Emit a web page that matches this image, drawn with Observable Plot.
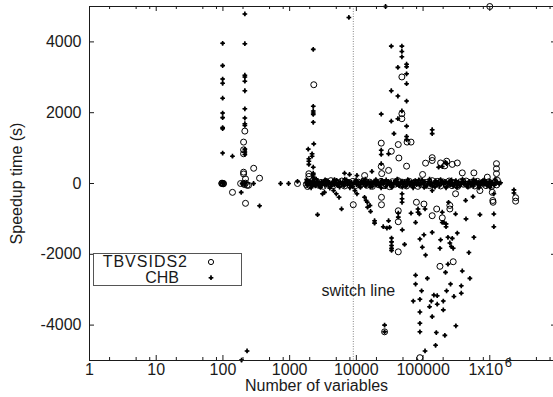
<!DOCTYPE html>
<html><head><meta charset="utf-8">
<script src="https://cdn.jsdelivr.net/npm/d3@7"></script>
<script src="https://cdn.jsdelivr.net/npm/@observablehq/plot@0.6"></script>
<style>
body{margin:0;background:#fff;font-family:"Liberation Sans",Arial,sans-serif;}
#wrap{position:relative;width:553px;height:397px;overflow:hidden;}
#legend{position:absolute;left:0;top:0;pointer-events:none;}
</style></head>
<body><div id="wrap"></div>
<script>
// ---- data ----
const seriesNames = ["TBVSIDS2", "CHB"];
const switchLine = [9000];
const switchLabel = ["switch line"];
const xMajorTicks = [1, 10, 100, 1000, 10000, 100000];
const xExpTick = [1000000];
const xAllMajor = [1, 10, 100, 1000, 10000, 100000, 1000000, 10000000];
const xMinorTicks = [2,5,8,20,50,80,200,500,800,2000,5000,8000,20000,50000,80000,200000,500000,800000,2000000,5000000,8000000];
const yTicks = [-4000, -2000, 0, 2000, 4000];

const tbvPoints = [
 [99,0],[96,0],[102,0],[97,10],[101,-10],
 [213,1480],[204,1170],[204,950],[204,840],[204,320],[204,270],[218,130],[184,0],[204,0],[218,10],[230,-50],[242,-50],[210,-30],
 [289,430],[354,150],[139,-250],[218,-560],
 [1312,0],
 [2300,2790],[1940,275],[1940,200],[1860,-85],
 [1000000,5000],
 [48100,3010],[48100,1970],[48100,1830],[57600,1170],[66000,1170],[23600,1140],[42500,1100],[33400,910],[43400,720],
 [56600,490],[30400,370],[109000,575],[137000,730],[137000,650],[183000,580],[226000,630],[274000,540],[326000,580],
 [387000,300],[578000,300],[918000,180],[1260000,560],[1260000,420],[1260000,280],[98400,255],[212000,500],
 [23600,480],[24000,280],[13300,225],
 [8990,-600],[23800,-390],[23800,-600],[42500,-770],[42500,-1080],[42500,-1930],
 [79500,-530],[103000,-580],[160000,-720],[137000,-910],[194000,-970],[252000,-620],[252000,-720],[307000,-290],
 [711000,-200],[1090000,-250],[1110000,-480],[1120000,-530],[179000,-2340],[283000,-2210],[89600,-4920],
 [2440000,-400],[2440000,-500],[26500,-4190],
 [1780,-30],[1880,40],[2010,-60],[2160,50],[2320,-10],[2500,70],[2720,-50],[2950,30],[3200,-80],[3480,60],[3800,-20],
 [4150,80],[4550,-60],[5000,40],[5500,-30],[6050,70],[6650,-70],[7300,20],[8050,-40],[8850,60],[9700,-60],[10700,40],
 [11800,-20],[13000,70],[14300,-50],[15800,40],[17400,-80],[19200,30],[21200,-30],[23400,60],[25800,-60],[28500,20],
 [31400,-90],[34600,50],[38200,-20],[42100,80],[46400,-50],[51200,30],[56500,-70],[62300,60],[68700,-30],[75800,40],
 [83600,-80],[92200,70],[102000,-40],[112000,30],[124000,-60],[137000,80],[151000,-20],[166000,60],[183000,-70],
 [202000,40],[223000,-40],[246000,70],[271000,-60],[299000,30],[330000,-80],[364000,50],[401000,-20],[442000,70],
 [488000,-50],[538000,30],[593000,-70],[654000,60],[721000,-30],[795000,40],[877000,-60],[967000,50],[1070000,-80],
 [1180000,20],[1270000,-40],[1300000,90]
];

const chbPoints = [
 [99,3960],[99,3330],[99,2950],[99,2830],[99,2410],[99,1990],[99,1860],[99,1580],[99,1550],[99,860],[99,0],[100,20],
 [213,4790],[213,3950],[213,3060],[213,3010],[213,2890],[213,2620],[213,2110],[213,1850],[213,1690],[213,1640],
 [213,970],[213,890],[213,820],[213,0],[194,0],
 [139,770],[288,0],[188,-250],[354,-630],[190,-4990],[230,-4730],
 [731,0],[964,0],[1312,60],
 [2260,3790],[2260,2180],[2260,2050],[2260,1990],[2260,1950],[2260,1730],[2300,1120],[1900,970],[2170,840],[2170,770],
 [1940,700],[1940,630],[1940,540],[2260,460],[2260,290],[2260,250],[2260,180],
 [7720,4690],[27400,5000],
 [33400,3880],[48100,3880],[48100,3730],[48100,3580],[56600,3370],[56600,3300],[41900,3280],[56600,3100],[56600,2820],
 [33400,2620],[41900,2470],[56600,2330],[23600,1960],[48100,2050],[41900,1830],[33400,1760],[56600,1620],
 [137000,1520],[137000,1410],[36600,1410],[56600,1330],[56600,1240],[23600,940],[23600,820],[30400,840],[23600,560],
 [17100,340],[6650,290],[7900,255],[10200,227],
 [217000,600],[171000,460],[194000,480],[226000,560],
 [3110,-290],[3330,-250],[4550,-200],[5000,-290],[5500,-390],[6000,-720],[2620,-880],[10200,-290],[9500,-200],
 [13270,-390],[14000,-480],[14600,-530],[16000,-620],[14720,-670],[16330,-790],[18750,-1050],[18750,-1120],
 [25300,-1220],[28700,-1260],[31500,-1240],
 [33700,-1540],[33700,-1650],[33700,-1750],[33700,-1830],[33700,-1890],
 [42500,-840],[42500,-950],[48800,-1310],[52800,-1720],
 [48400,-290],[48400,-430],[48400,-530],[30400,-1050],[66000,-840],[84000,-720],[84000,-810],[88000,-860],
 [107000,-720],[137000,-200],[77200,-1100],[194000,-810],[194000,-1100],[205000,-1100],[221000,-1140],[221000,-1220],
 [241000,-530],[307000,-860],[434000,-480],[560000,-370],[440000,-1000],[711000,-880],[1150000,-290],[1150000,-860],
 [1150000,-1220],[2300000,-180],[2300000,-270],
 [89600,-1570],[103000,-1450],[137000,-1380],[97500,-1800],[109000,-2020],[183000,-1590],[179000,-1830],
 [236000,-1520],[274000,-1550],[252000,-1680],[283000,-1830],[265000,-1780],[326000,-1400],[578000,-1520],
 [486000,-1950],[236000,-2280],[217000,-2510],[387000,-2470],[503000,-2680],[77200,-2590],[116000,-2680],
 [77200,-2840],[95000,-3030],[71300,-3320],[89600,-3270],[145000,-3150],[163000,-3170],[258000,-2840],
 [374000,-2890],[374000,-3100],[225000,-3030],[290000,-3190],[133000,-3320],[163000,-3410],[125000,-3480],
 [201000,-3320],[201000,-3570],[89600,-3630],[137000,-3760],[89600,-3950],[89600,-4190],[158000,-4210],
 [212000,-4290],[310000,-4020],[154000,-4570],[107000,-4730],[26500,-4000],[26500,-4190],
 [1760,20],[1830,-40],[1900,60],[1960,-20],[2020,30],[2090,-60],[2150,10],[2210,70],[2280,-30],[2350,40],[2430,-70],
 [2510,0],[2600,50],[2680,-40],[2790,20],[2880,-90],[2990,40],[3120,-20],[3230,60],[3370,-50],[3490,10],[3640,70],
 [3780,-30],[3950,30],[4120,-80],[4280,0],[4470,60],[4650,-40],[4870,20],[5080,90],[5290,-60],[5510,10],[5760,50],
 [6020,-30],[6280,40],[6540,-70],[6830,20],[7140,100],[7450,-10],[7780,60],[8130,-50],[8500,30],[8880,-90],[9270,10],
 [9680,70],[10100,-30],[10600,40],[11100,-60],[11600,20],[12100,80],[12700,-20],[13300,50],[13900,-70],[14500,0],
 [15200,60],[15900,-40],[16600,30],[17400,-80],[18200,10],[19100,70],[20000,-30],[21000,40],[22000,-60],[23000,20],
 [24100,90],[25200,-20],[26400,50],[27600,-90],[28900,0],[30300,60],[31700,-40],[33200,30],[34800,-70],[36400,10],
 [38200,80],[40000,-30],[41900,40],[43900,-60],[46000,20],[48200,70],[50500,-20],[52900,50],[55400,-80],[58000,0],
 [60800,60],[63700,-40],[66700,30],[69900,-70],[73200,10],[76700,80],[80400,-30],[84200,40],[88200,-50],[92400,20],
 [96800,90],[101000,-20],[106000,50],[111000,-80],[117000,0],[122000,60],[128000,-40],[134000,30],[140000,-70],
 [147000,10],[154000,80],[161000,-30],[169000,40],[177000,-60],[186000,20],[195000,70],[204000,-20],[214000,50],
 [224000,-90],[235000,0],[246000,60],[258000,-40],[270000,30],[283000,-70],[296000,10],[310000,80],[325000,-30],
 [341000,40],[357000,-60],[374000,20],[392000,60],[411000,-20],[430000,50],[451000,-80],[472000,0],[495000,60],
 [519000,-40],[544000,30],[570000,-70],[597000,10],[626000,70],[656000,-30],[687000,40],[720000,-50],[754000,20],
 [790000,80],[828000,-20],[868000,50],[910000,-60],[954000,10],[1000000,60],[1050000,-30],[1100000,30],[1160000,-50],
 [1230000,20],[1300000,40],[1380000,-10],[1450000,20],
 [1800,110],[2100,-120],[2500,120],[2900,-110],[3400,100],[4000,-130],[4700,110],[5600,-100],[6700,120],[8000,-120],
 [9900,100],[11500,-110],[13600,120],[16200,-100],[19600,110],[23500,-120],[28000,100],[34000,-110],[41000,120],
 [49000,-100],[59000,110],[71000,-120],[86000,100],[104000,-110],[125000,120],[151000,-100],[183000,110],
 [221000,-120],[267000,100],[322000,-110],[390000,120],[470000,-100],[570000,110],[690000,-120],[830000,100],
 [1010000,-110],[1200000,120]
];

// ---- chart ----
const FONT = '"Liberation Sans", Arial, Helvetica, sans-serif';
const INK = "#1a1a1a";
const chart = Plot.plot({
  width: 553, height: 397,
  marginLeft: 89, marginRight: -3, marginTop: 6, marginBottom: 37,
  x: {type: "log", domain: [1, 1e7]},
  y: {domain: [-5000, 5000]},
  style: {fontFamily: FONT, fontSize: "16px", color: INK, background: "#fff", overflow: "hidden"},
  marks: [
    Plot.ruleX(switchLine, {x: d => d, stroke: "#888", strokeWidth: 1, strokeDasharray: "1,1.5"}),
    Plot.text(switchLabel, {x: switchLine[0], y: -3020, text: d => d, dx: 5, fontSize: 16, fill: INK}),
    Plot.dot(tbvPoints, {x: d => d[0], y: d => d[1], r: 3, stroke: "#000", strokeWidth: 1, fill: "none"}),
    Plot.dot(chbPoints, {x: d => d[0], y: d => d[1], r: 1.5, fill: "#000", stroke: "none"}),
    Plot.dot(chbPoints, {x: d => d[0], y: d => d[1], r: 2.0, symbol: "cross", fill: "#000", stroke: "none"}),
    Plot.frame({stroke: INK, strokeWidth: 1}),
    Plot.tickX(xAllMajor, {x: d => d, insetTop: 349, stroke: INK}),
    Plot.tickX(xAllMajor, {x: d => d, insetBottom: 349, stroke: INK}),
    Plot.tickX(xMinorTicks, {x: d => d, insetTop: 351, stroke: INK}),
    Plot.tickX(xMinorTicks, {x: d => d, insetBottom: 351, stroke: INK}),
    Plot.tickY(yTicks, {y: d => d, insetRight: 462, stroke: INK}),
    Plot.tickY(yTicks, {y: d => d, insetLeft: 462, stroke: INK}),
    Plot.axisX({ticks: xMajorTicks, tickSize: 0, tickPadding: 3, tickFormat: d => String(d), fontSize: 16, label: null}),
    Plot.axisX({ticks: xExpTick, tickSize: 0, tickPadding: 3, tickFormat: () => "1x10", dx: -4, fontSize: 16, label: null}),
    Plot.text(xExpTick, {x: d => d, frameAnchor: "bottom", text: () => "6", dx: 18.5, dy: 6, fontSize: 13, fill: INK}),
    Plot.axisY({ticks: yTicks, tickSize: 0, tickPadding: 8, tickFormat: d => String(d), fontSize: 16, label: null}),
    Plot.text(["Speedup time (s)"], {frameAnchor: "left", text: d => d, rotate: -90, textAnchor: "middle", dx: -73, fontSize: 16, fill: INK}),
    Plot.text(["Number of variables"], {frameAnchor: "bottom", text: d => d, textAnchor: "middle", dx: -6.5, dy: 19.5, lineAnchor: "top", fontSize: 16, fill: INK})
  ]
});
const wrap = document.getElementById("wrap");
wrap.appendChild(chart);

// ---- legend (inside plot area) ----
const ns = "http://www.w3.org/2000/svg";
const lg = document.createElementNS(ns, "svg");
lg.setAttribute("id", "legend");
lg.setAttribute("width", 553); lg.setAttribute("height", 397);
const crossPath = d3.symbol(d3.symbolCross, Math.PI * 2.0 * 2.0)();
lg.innerHTML = `
 <rect x="93.5" y="253.5" width="148" height="32" fill="none" stroke="#555" stroke-width="1"/>
 <text x="188" y="266.7" text-anchor="end" font-size="16" letter-spacing="1" fill="${INK}" font-family='${FONT}'>${seriesNames[0]}</text>
 <text x="179" y="283.3" text-anchor="end" font-size="16" fill="${INK}" font-family='${FONT}'>${seriesNames[1]}</text>
 <circle cx="211" cy="262" r="2.6" fill="none" stroke="#000" stroke-width="1"/>
 <circle cx="211" cy="277.7" r="1.5" fill="#000"/>
 <path d="${crossPath}" transform="translate(211,277.7)" fill="#000"/>
`;
wrap.appendChild(lg);
</script>
</body></html>
